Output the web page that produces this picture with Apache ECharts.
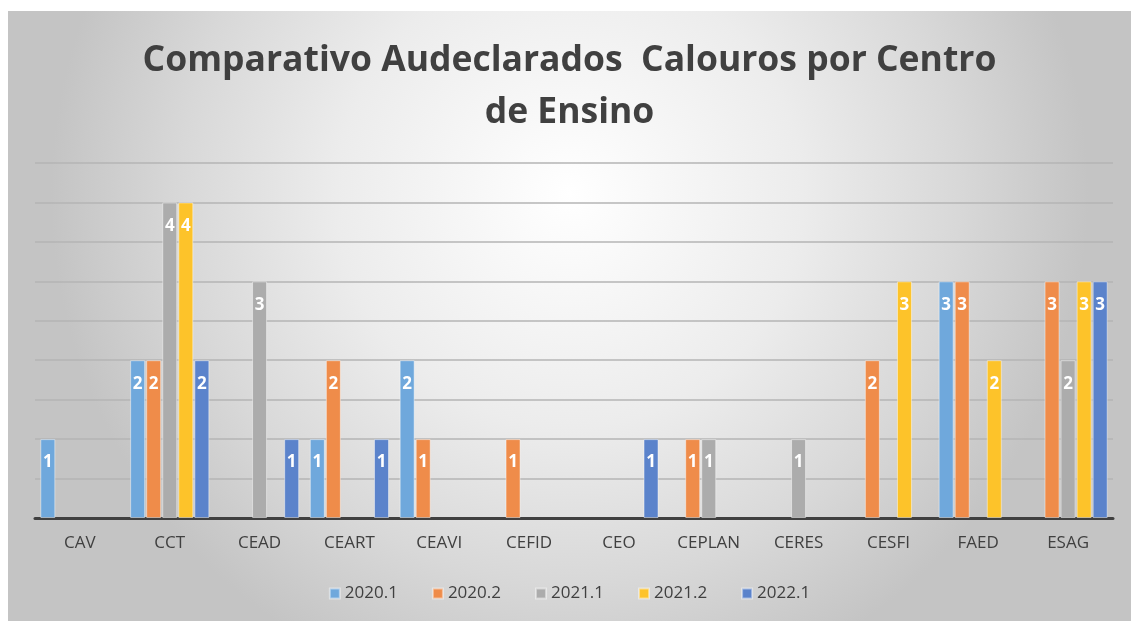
<!DOCTYPE html>
<html>
<head>
<meta charset="utf-8">
<script src="https://cdn.jsdelivr.net/npm/echarts@6/dist/echarts.min.js"></script>
<style>
html,body{margin:0;padding:0;background:#fff;width:1131px;height:621px;overflow:hidden;}
#c{position:absolute;left:8px;top:11px;width:1123px;height:610px;}
</style>
</head>
<body>
<div id="c"></div>
<script>
const categories = ['CAV','CCT','CEAD','CEART','CEAVI','CEFID','CEO','CEPLAN','CERES','CESFI','FAED','ESAG'];
const seriesNames = ['2020.1','2020.2','2021.1','2021.2','2022.1'];
const s2020_1 = [1,2,0,1,2,0,0,0,0,0,3,0];
const s2020_2 = [0,2,0,2,1,1,0,1,0,2,3,3];
const s2021_1 = [0,4,3,0,0,0,0,1,1,0,0,2];
const s2021_2 = [0,4,0,0,0,0,0,0,0,3,2,3];
const s2022_1 = [0,2,1,1,0,0,1,0,0,0,0,3];
const colors = ['#6fa8dc','#ef8c4a','#acacac','#fdc32a','#5b83cb'];
const allData = [s2020_1,s2020_2,s2021_1,s2021_2,s2022_1];

const chart = echarts.init(document.getElementById('c'));
const font = '"Open Sans", sans-serif';
chart.setOption({
  backgroundColor: {
    type:'radial', x:0.5, y:0.3, r:0.85,
    colorStops:[{offset:0,color:'#ffffff'},{offset:0.45,color:'#ececec'},{offset:0.75,color:'#d8d8d8'},{offset:1,color:'#c4c4c4'}]
  },
  title: {
    text: 'Comparativo Audeclarados  Calouros por Centro\nde Ensino',
    left: 'center', top: 19,
    textStyle: {fontFamily: font, fontWeight: 'bold', fontSize: 35.5, color: '#404040', lineHeight: 52}
  },
  legend: {
    bottom: 14, left: 'center', itemWidth: 10, itemHeight: 10, itemGap: 34, icon: 'rect',
    textStyle: {fontFamily: font, fontSize: 17, color: '#404040'},
    data: seriesNames
  },
  grid: {left: 27, right: 18, top: 152, bottom: 103},
  xAxis: {
    type: 'category', data: categories,
    axisLine: {lineStyle: {color: '#404040', width: 3}},
    axisTick: {show: false},
    axisLabel: {fontFamily: font, fontSize: 17, color: '#404040', margin: 17}
  },
  yAxis: {
    type: 'value', min: 0, max: 4.5, interval: 0.5,
    axisLabel: {show: false}, axisLine: {show: false}, axisTick: {show: false},
    splitLine: {lineStyle: {color: '#b4b4b4', width: 1.5}}
  },
  series: seriesNames.map((n,i)=>({
    name: n, type: 'bar', data: allData[i].map(v => v === 0 ? '-' : v), barWidth: 15, barGap: '7%',
    itemStyle: {color: colors[i], borderColor: 'rgba(255,255,255,0.45)', borderWidth: 1},
    label: {show: true, position: 'insideTop', distance: 15, color: '#fff', fontFamily: font, fontWeight: 'bold', fontSize: 17,
      formatter: p => String(p.value)}
  }))
});
</script>
</body>
</html>
